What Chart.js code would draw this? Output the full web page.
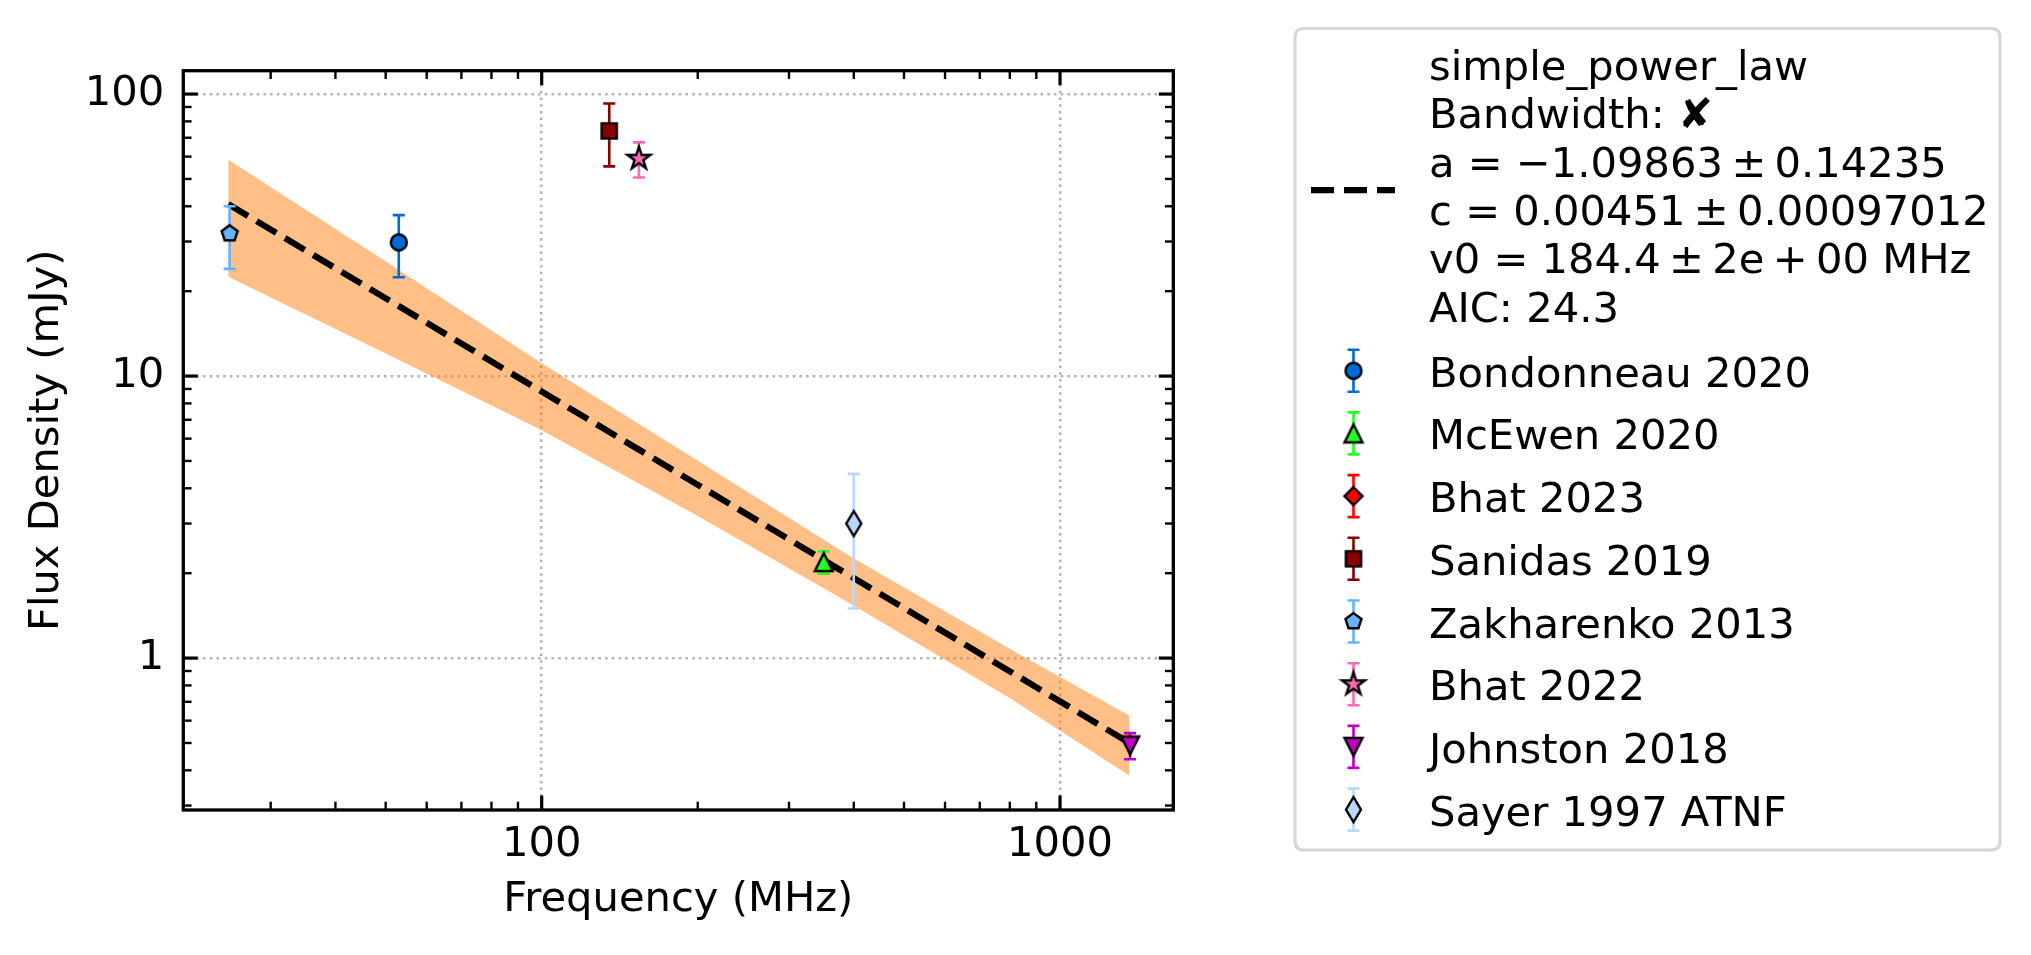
<!DOCTYPE html>
<html>
<head>
<meta charset="utf-8">
<script src="https://cdn.jsdelivr.net/npm/chart.js@4.4.1/dist/chart.umd.min.js"></script>
<style>
html,body{margin:0;padding:0;background:#ffffff;}
#wrap{position:relative;width:2031px;height:955px;}
canvas{display:block;}
</style>
</head>
<body>
<div id="wrap"><canvas id="c" width="2031" height="955"></canvas></div>
<script>
// ---------------- data ----------------
const bondonneauFreq = [53];    const bondonneauFlux = [29.8]; const bondonneauErr = [7.4];
const mcewenFreq     = [350];   const mcewenFlux     = [2.19]; const mcewenErr     = [0.2];
const bhat2023Freq   = [];      const bhat2023Flux   = [];     const bhat2023Err   = [];
const sanidasFreq    = [135];   const sanidasFlux    = [74];   const sanidasErr    = [18.6];
const zakharenkoFreq = [25];    const zakharenkoFlux = [32];   const zakharenkoErr = [8];
const bhat2022Freq   = [154];   const bhat2022Flux   = [59];   const bhat2022Err   = [8.4];
const johnstonFreq   = [1365];  const johnstonFlux   = [0.49]; const johnstonErr   = [0.052];
const sayerFreq      = [400];   const sayerFlux      = [3.0];  const sayerErr      = [1.5];

const fitFreq   = [24.85, 1362];
const fitFlux   = [40.7, 0.50];
const bandFreq  = [24.85, 48.8, 100, 197, 393, 801, 1362];
const bandUpper = [58.5, 26.3, 11.1, 5.1, 2.30, 1.077, 0.625];
const bandLower = [22.5, 12.3, 6.43, 3.24, 1.565, 0.72, 0.383];

const xTickValues = [30,40,50,60,70,80,90,100,200,300,400,500,600,700,800,900,1000];
const xTickLabels = {100:'100', 1000:'1000'};
const yTickValues = [0.3,0.4,0.5,0.6,0.7,0.8,0.9,1,2,3,4,5,6,7,8,9,10,20,30,40,50,60,70,80,90,100];
const yTickLabels = {1:'1', 10:'10', 100:'100'};

const fitLabelLines = ['simple_power_law','Bandwidth: \u2718','a = \u22121.09863\u2009\u00b1\u20090.14235','c = 0.00451\u2009\u00b1\u20090.00097012','v0 = 184.4\u2009\u00b1\u20092e\u2009+\u200900 MHz','AIC: 24.3'];

// ---------------- marker images ----------------
const FONT = '"DejaVu Sans", "Liberation Sans", sans-serif';
const FS = 41.67;
function makeMarker(shape, fill, R) {
  const pad = 4;
  const dim = Math.ceil(2 * R + 2 * pad);
  const c = document.createElement('canvas');
  c.width = dim; c.height = dim;
  const g = c.getContext('2d');
  g.translate(dim / 2, dim / 2);
  g.beginPath();
  const poly = (pts) => { g.moveTo(pts[0][0], pts[0][1]); for (let i = 1; i < pts.length; i++) g.lineTo(pts[i][0], pts[i][1]); g.closePath(); };
  if (shape === 'circle') { g.arc(0, 0, R, 0, Math.PI * 2); }
  else if (shape === 'triUp') { poly([[0,-R],[-R,R],[R,R]]); }
  else if (shape === 'triDown') { poly([[0,R],[-R,-R],[R,-R]]); }
  else if (shape === 'square') { poly([[-R,-R],[R,-R],[R,R],[-R,R]]); }
  else if (shape === 'diamond') { poly([[0,-R],[R,0],[0,R],[-R,0]]); }
  else if (shape === 'thinDiamond') { poly([[0,-R],[0.6*R,0],[0,R],[-0.6*R,0]]); }
  else if (shape === 'pentagon') {
    const p = []; for (let k = 0; k < 5; k++) { const a = -Math.PI/2 + k * 2*Math.PI/5; p.push([R*Math.cos(a), R*Math.sin(a)]); } poly(p);
  } else if (shape === 'star') {
    const p = []; const r2 = R * 0.381966;
    for (let k = 0; k < 10; k++) { const a = -Math.PI/2 + k * Math.PI/5; const rr = k % 2 ? r2 : R; p.push([rr*Math.cos(a), rr*Math.sin(a)]); } poly(p);
  }
  g.fillStyle = fill; g.fill();
  g.lineWidth = 2.4; g.strokeStyle = '#000'; g.lineJoin = 'miter'; g.stroke();
  return c;
}

const series = [
  {label:'Bondonneau 2020',  freq:bondonneauFreq, flux:bondonneauFlux, err:bondonneauErr, color:'#006ad9', shape:'circle',      R:8.0},
  {label:'McEwen 2020',      freq:mcewenFreq,     flux:mcewenFlux,     err:mcewenErr,     color:'#22ff22', shape:'triUp',       R:9.0},
  {label:'Bhat 2023',        freq:bhat2023Freq,   flux:bhat2023Flux,   err:bhat2023Err,   color:'#ff0000', shape:'diamond',     R:9.0},
  {label:'Sanidas 2019',     freq:sanidasFreq,    flux:sanidasFlux,    err:sanidasErr,    color:'#8b0000', shape:'square',      R:7.6},
  {label:'Zakharenko 2013',  freq:zakharenkoFreq, flux:zakharenkoFlux, err:zakharenkoErr, color:'#66b2ff', shape:'pentagon',    R:8.4},
  {label:'Bhat 2022',        freq:bhat2022Freq,   flux:bhat2022Flux,   err:bhat2022Err,   color:'#ff69b4', shape:'star',        R:12.0},
  {label:'Johnston 2018',    freq:johnstonFreq,   flux:johnstonFlux,   err:johnstonErr,   color:'#bf00bf', shape:'triDown',     R:9.0},
  {label:'Sayer 1997 ATNF',  freq:sayerFreq,      flux:sayerFlux,      err:sayerErr,      color:'#b8d9fc', shape:'thinDiamond', R:12.5}
];

const toXY = (xs, ys) => xs.map((x, i) => ({x: x, y: ys[i]}));

const datasets = [
  {type:'line', label:'band lower', data:toXY(bandFreq, bandLower), borderWidth:0, pointRadius:0, fill:false, order:100, kind:'band'},
  {type:'line', label:'band upper', data:toXY(bandFreq, bandUpper), borderWidth:0, pointRadius:0, fill:'-1', backgroundColor:'rgba(255,127,14,0.5)', order:99, kind:'band'},
  {type:'line', label:'fit', data:toXY(fitFreq, fitFlux), borderColor:'#000000', borderWidth:6.25, borderDash:[23,10], pointRadius:0, fill:false, order:90, kind:'fit'}
];
series.forEach((s, i) => {
  const img = makeMarker(s.shape, s.color, s.R);
  datasets.push({
    type:'scatter', label:s.label, data:toXY(s.freq, s.flux), errors:s.err, errColor:s.color,
    pointStyle:img, pointRadius:10, order:20 - i, kind:'series', markerImg:img
  });
});

const isPow10 = (v) => Math.abs(Math.log10(v) - Math.round(Math.log10(v))) < 1e-9;

// ---------------- plugins ----------------
const errorBarPlugin = {
  id:'errbars',
  beforeDatasetDraw(chart, args) {
    const ds = chart.data.datasets[args.index];
    if (!ds.errors || !ds.errors.length) return;
    const ctx = chart.ctx, ys = chart.scales.y;
    ctx.save();
    ctx.strokeStyle = ds.errColor; ctx.lineWidth = 2.6; ctx.lineCap = 'butt';
    args.meta.data.forEach((pt, i) => {
      const v = ds.data[i].y, e = ds.errors[i];
      const yt = ys.getPixelForValue(v + e), yb = ys.getPixelForValue(v - e);
      ctx.beginPath();
      ctx.moveTo(pt.x, yt); ctx.lineTo(pt.x, yb);
      ctx.moveTo(pt.x - 6, yt); ctx.lineTo(pt.x + 6, yt);
      ctx.moveTo(pt.x - 6, yb); ctx.lineTo(pt.x + 6, yb);
      ctx.stroke();
    });
    ctx.restore();
  }
};

const framePlugin = {
  id:'frame',
  afterDatasetsDraw(chart) {
    const {ctx, chartArea:{left, right, top, bottom}, scales:{x, y}} = chart;
    ctx.save();
    ctx.strokeStyle = '#000';
    const seg = (x1, y1, x2, y2, w) => { ctx.lineWidth = w; ctx.beginPath(); ctx.moveTo(x1, y1); ctx.lineTo(x2, y2); ctx.stroke(); };
    x.ticks.forEach(t => {
      const px = x.getPixelForValue(t.value); const M = isPow10(t.value);
      const L = M ? 14.5 : 8.3, w = M ? 3.2 : 2.4;
      seg(px, bottom, px, bottom - L, w); seg(px, top, px, top + L, w);
    });
    y.ticks.forEach(t => {
      const py = y.getPixelForValue(t.value); const M = isPow10(t.value);
      const L = M ? 14.5 : 8.3, w = M ? 3.2 : 2.4;
      seg(left, py, left + L, py, w); seg(right, py, right - L, py, w);
    });
    ctx.lineWidth = 3.3;
    ctx.strokeRect(left, top, right - left, bottom - top);
    ctx.restore();
  }
};

const legendPlugin = {
  id:'fitLegend',
  afterDraw(chart) {
    const ctx = chart.ctx;
    ctx.save();
    const bx = 1295, by = 28.5, bw = 705, bh = 821.5, r = 9;
    ctx.beginPath();
    ctx.moveTo(bx + r, by); ctx.lineTo(bx + bw - r, by); ctx.quadraticCurveTo(bx + bw, by, bx + bw, by + r);
    ctx.lineTo(bx + bw, by + bh - r); ctx.quadraticCurveTo(bx + bw, by + bh, bx + bw - r, by + bh);
    ctx.lineTo(bx + r, by + bh); ctx.quadraticCurveTo(bx, by + bh, bx, by + bh - r);
    ctx.lineTo(bx, by + r); ctx.quadraticCurveTo(bx, by, bx + r, by); ctx.closePath();
    ctx.fillStyle = '#ffffff'; ctx.fill();
    ctx.lineWidth = 3.2; ctx.strokeStyle = '#d6d6d6'; ctx.stroke();

    ctx.font = FS + 'px ' + FONT;
    ctx.fillStyle = '#000'; ctx.textAlign = 'left'; ctx.textBaseline = 'alphabetic';
    const textX = 1429, handleX = 1353.5;
    const fit = chart.data.datasets.find(d => d.kind === 'fit');
    ctx.save();
    ctx.strokeStyle = fit.borderColor; ctx.lineWidth = fit.borderWidth; ctx.setLineDash(fit.borderDash);
    ctx.beginPath(); ctx.moveTo(1311, 190); ctx.lineTo(1395, 190); ctx.stroke();
    ctx.restore();
    fitLabelLines.forEach((t, i) => ctx.fillText(t, textX, 80 + i * 48.3));
    const sds = chart.data.datasets.filter(d => d.kind === 'series');
    sds.forEach((d, i) => {
      const base = 386.7 + i * 62.7;
      const cy = base - 16;
      ctx.save();
      ctx.strokeStyle = d.errColor; ctx.lineWidth = 2.6;
      ctx.beginPath();
      ctx.moveTo(handleX, cy - 21); ctx.lineTo(handleX, cy + 21);
      ctx.moveTo(handleX - 6, cy - 21); ctx.lineTo(handleX + 6, cy - 21);
      ctx.moveTo(handleX - 6, cy + 21); ctx.lineTo(handleX + 6, cy + 21);
      ctx.stroke();
      const img = d.markerImg;
      ctx.drawImage(img, handleX - img.width / 2, cy - img.height / 2);
      ctx.restore();
      ctx.fillText(d.label, textX, base);
    });
    ctx.restore();
  }
};

// ---------------- chart ----------------
const tickFont = {family: FONT, size: FS};
new Chart(document.getElementById('c'), {
  data: {datasets: datasets},
  options: {
    responsive:false, animation:false, devicePixelRatio:1,
    layout:{padding:{left:0, top:70.7, right:857.7, bottom:0}},
    plugins:{legend:{display:false}, tooltip:{enabled:false}},
    elements:{line:{tension:0}},
    scales:{
      x:{
        type:'logarithmic', position:'bottom', min:20.35, max:1654,
        afterBuildTicks:(s) => { s.ticks = xTickValues.map(v => ({value:v})); },
        afterFit:(s) => { s.height = 145; },
        ticks:{autoSkip:false, maxRotation:0, minRotation:0, color:'#000', font:tickFont, padding:10,
               callback:(v) => xTickLabels[v] || ''},
        grid:{drawTicks:false, lineWidth:2.5, color:(c) => (c.tick && isPow10(c.tick.value)) ? '#b3b3b3' : 'rgba(0,0,0,0)'},
        border:{display:false, dash:[2.5,4.2]},
        title:{display:true, text:'Frequency (MHz)', color:'#000', font:tickFont, padding:{top:0, bottom:30}}
      },
      y:{
        type:'logarithmic', position:'left', min:0.2893, max:121,
        afterBuildTicks:(s) => { s.ticks = yTickValues.map(v => ({value:v})); },
        afterFit:(s) => { s.width = 183.3; },
        ticks:{autoSkip:false, color:'#000', font:tickFont, padding:19,
               callback:(v) => yTickLabels[v] || ''},
        grid:{drawTicks:false, lineWidth:2.5, color:(c) => (c.tick && isPow10(c.tick.value)) ? '#b3b3b3' : 'rgba(0,0,0,0)'},
        border:{display:false, dash:[2.5,4.2]},
        title:{display:true, text:'Flux Density (mJy)', color:'#000', font:tickFont, padding:{top:22.6, bottom:0}}
      }
    }
  },
  plugins:[errorBarPlugin, framePlugin, legendPlugin]
});
</script>
</body>
</html>
